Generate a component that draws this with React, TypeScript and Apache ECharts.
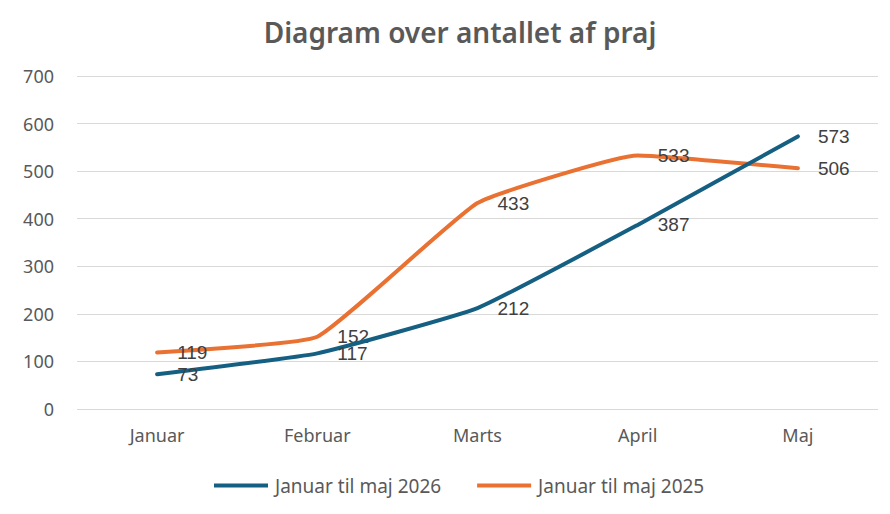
import React, { useEffect, useRef } from "react";
import * as echarts from "echarts";

const categories = ["Januar", "Februar", "Marts", "April", "Maj"];
const series2026 = [73, 117, 212, 387, 573];
const series2025 = [119, 152, 433, 533, 506];
const yTicks = [0, 100, 200, 300, 400, 500, 600, 700];
const seriesNames = ["Januar til maj 2026", "Januar til maj 2025"];

const BLUE = "#156082";
const ORANGE = "#E97132";
const FONT = "Noto Sans, sans-serif";

export default function App() {
  const ref = useRef<HTMLDivElement>(null);
  useEffect(() => {
    document.body.style.margin = "0";
    if (!ref.current) return;
    const chart = echarts.init(ref.current, undefined, { renderer: "svg" });
    const labelStyle = {
      show: true,
      position: "right" as const,
      distance: 20,
      fontSize: 19,
      color: "#404040",
      fontFamily: "Liberation Sans, Arial, sans-serif",
    };
    chart.setOption({
      animation: false,
      backgroundColor: "#ffffff",
      title: {
        text: "Diagram over antallet af praj",
        left: 455,
        textAlign: "center",
        top: 13,
        textStyle: {
          fontSize: 28,
          fontWeight: 600,
          color: "#595959",
          fontFamily: FONT,
        },
      },
      legend: {
        bottom: 14,
        left: 209,
        itemWidth: 54,
        itemHeight: 4,
        itemGap: 36,
        icon: "rect",
        data: seriesNames,
        textStyle: {
          fontSize: 19,
          color: "#595959",
          fontFamily: FONT,
          padding: [0, 0, 0, 2],
        },
      },
      grid: { left: 77, right: 12, top: 76, bottom: 105 },
      xAxis: {
        type: "category",
        data: categories,
        boundaryGap: true,
        axisLine: { show: false },
        axisTick: { show: false },
        axisLabel: {
          fontSize: 18,
          color: "#595959",
          margin: 17,
          fontFamily: FONT,
        },
      },
      yAxis: {
        type: "value",
        min: yTicks[0],
        max: yTicks[yTicks.length - 1],
        interval: 100,
        axisLine: { show: false },
        axisTick: { show: false },
        splitLine: { lineStyle: { color: "#d9d9d9", width: 1 } },
        axisLabel: {
          fontSize: 18,
          color: "#595959",
          margin: 23,
          fontFamily: FONT,
        },
      },
      series: [
        {
          name: seriesNames[0],
          type: "line",
          data: series2026,
          smooth: 0.12,
          symbol: "circle",
          symbolSize: 0.1,
          showSymbol: true,
          lineStyle: { color: BLUE, width: 4, cap: "round" },
          itemStyle: { color: BLUE },
          label: labelStyle,
          z: 3,
        },
        {
          name: seriesNames[1],
          type: "line",
          data: series2025,
          smooth: 0.12,
          symbol: "circle",
          symbolSize: 0.1,
          showSymbol: true,
          lineStyle: { color: ORANGE, width: 4, cap: "round" },
          itemStyle: { color: ORANGE },
          label: labelStyle,
          z: 2,
        },
      ],
    });
    return () => chart.dispose();
  }, []);
  return <div ref={ref} style={{ width: 890, height: 514 }} />;
}
